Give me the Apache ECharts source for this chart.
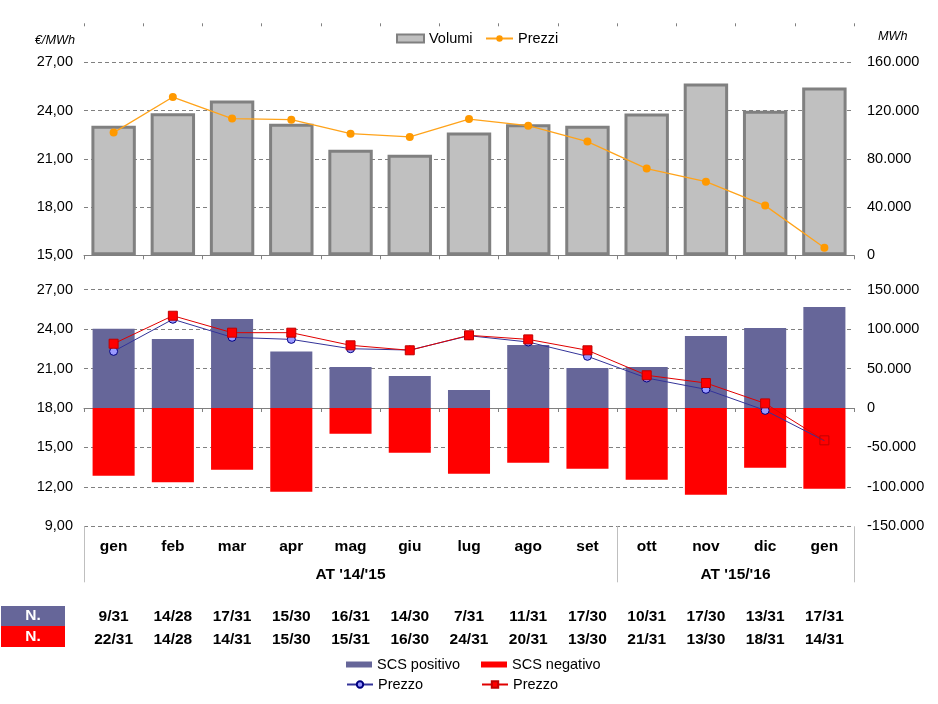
<!DOCTYPE html>
<html><head><meta charset="utf-8">
<script src="https://cdn.jsdelivr.net/npm/echarts@6/dist/echarts.min.js"></script>
<style>html,body{margin:0;padding:0;background:#fff}#c{width:938px;height:704px}</style>
</head><body><div id="c"></div>
<script>
const categories = ['gen','feb','mar','apr','mag','giu','lug','ago','set','ott','nov','dic','gen'];
const volumi = [107400,117800,128300,109000,87500,83300,101800,108700,107400,117500,142400,119800,139100];
const prezzi = [22.63,24.84,23.50,23.43,22.56,22.36,23.47,23.06,22.07,20.39,19.58,18.09,15.47];
const scsPositivo = [100600,87600,113000,71500,52000,40600,22800,80000,50800,52000,91400,101500,128200];
const scsNegativo = [-85900,-94300,-78300,-106200,-32600,-56700,-83300,-69400,-77000,-91000,-110000,-75700,-102400];
const prezzoPositivo = [22.31,24.75,23.38,23.22,22.51,22.41,23.50,23.02,21.93,20.28,19.42,17.82,15.51];
const prezzoNegativo = [22.89,25.02,23.73,23.73,22.77,22.39,23.53,23.22,22.39,20.49,19.90,18.35,15.54];
const giorniPositivo = ['9/31','14/28','17/31','15/30','16/31','14/30','7/31','11/31','17/30','10/31','17/30','13/31','17/31'];
const giorniNegativo = ['22/31','14/28','14/31','15/30','15/31','16/30','24/31','20/31','13/30','21/31','13/30','18/31','14/31'];
const groupLabels = ["AT '14/'15", "AT '15/'16"];
const groupSizes = [9, 4];

const FONT = "'Liberation Sans', Arial, sans-serif";
const bounds = [0];
groupSizes.forEach(s => bounds.push(bounds[bounds.length - 1] + s));
const centers = groupSizes.map((s, i) => bounds[i] + s / 2);

const fmtEur = v => v.toFixed(2).replace('.', ',');
const fmtMwh = v => String(v).replace(/\B(?=(\d{3})+(?!\d))/g, '.');
const last = categories.length - 1;

const gridLine = { show: true, lineStyle: { color: '#808080', type: [4, 3], width: 1 } };
const axisLbl = { color: '#000', fontSize: 14.5, fontFamily: FONT };

const chart = echarts.init(document.getElementById('c'), null, { renderer: 'canvas' });
chart.setOption({
  animation: false,
  backgroundColor: '#fff',
  textStyle: { fontFamily: FONT },
  grid: [
    { left: 84, right: 84, top: 62.3, height: 193 },
    { left: 84, right: 84, top: 289.7, height: 236.6 }
  ],
  legend: [
    { data: ['Volumi'], left: 396, top: 31, padding: 0, itemWidth: 27, itemHeight: 8, itemGap: 0, textStyle: { fontSize: 14.5, color: '#000' }, icon: 'rect' },
    { data: ['Prezzi'], left: 485, top: 31, padding: 0, itemWidth: 27, itemHeight: 8, textStyle: { fontSize: 14.5, color: '#000' } },
    { data: ['SCS positivo'], left: 346, top: 657, padding: 0, itemWidth: 26, itemHeight: 6, icon: 'rect', textStyle: { fontSize: 14.5, color: '#000' } },
    { data: ['SCS negativo'], left: 481, top: 657, padding: 0, itemWidth: 26, itemHeight: 6, icon: 'rect', textStyle: { fontSize: 14.5, color: '#000' } },
    { data: ['Prezzo'], left: 346, top: 677, padding: 0, itemWidth: 26, itemHeight: 8, textStyle: { fontSize: 14.5, color: '#000' } },
    { data: ['Prezzo '], left: 481, top: 677, padding: 0, itemWidth: 26, itemHeight: 8, textStyle: { fontSize: 14.5, color: '#000' } }
  ],
  xAxis: [
    { gridIndex: 0, type: 'category', position: 'bottom', data: categories,
      axisLine: { show: true, onZero: false, lineStyle: { color: '#808080', width: 1 } },
      axisTick: { show: true, length: 4, lineStyle: { color: '#808080' } },
      axisLabel: { show: false }, splitLine: { show: false } },
    { gridIndex: 0, type: 'category', position: 'top', offset: 36, data: categories,
      axisLine: { show: false, onZero: false },
      axisTick: { show: true, length: 3, lineStyle: { color: '#808080' } },
      axisLabel: { show: false }, splitLine: { show: false } },
    { gridIndex: 1, type: 'category', position: 'bottom', data: categories,
      axisLine: { show: false, onZero: false }, axisTick: { show: false },
      axisLabel: { show: true, interval: 0, margin: 12, color: '#000', fontSize: 15.5, fontWeight: 'bold', fontFamily: FONT },
      splitLine: { show: false } },
    { gridIndex: 1, type: 'category', position: 'bottom', data: categories,
      axisLine: { show: true, onZero: true, onZeroAxisIndex: 3, lineStyle: { color: '#808080', width: 1 } },
      axisTick: { show: true, length: 4, lineStyle: { color: '#808080' } },
      axisLabel: { show: false }, splitLine: { show: false } },
    { gridIndex: 1, type: 'value', position: 'bottom', min: 0, max: bounds[bounds.length - 1],
      axisLine: { show: false, onZero: false },
      axisTick: { show: true, customValues: bounds, length: 56, lineStyle: { color: '#BFBFBF', width: 1 } },
      axisLabel: { show: true, customValues: centers, margin: 40, color: '#000', fontSize: 15.5, fontWeight: 'bold', fontFamily: FONT,
        formatter: v => groupLabels[centers.indexOf(v)] },
      splitLine: { show: false } },
    { gridIndex: 1, type: 'category', position: 'bottom', offset: 82, data: giorniPositivo,
      axisLine: { show: false, onZero: false }, axisTick: { show: false },
      axisLabel: { show: true, interval: 0, margin: 0, color: '#000', fontSize: 15.5, fontWeight: 'bold', fontFamily: FONT },
      splitLine: { show: false } },
    { gridIndex: 1, type: 'category', position: 'bottom', offset: 105, data: giorniNegativo,
      axisLine: { show: false, onZero: false }, axisTick: { show: false },
      axisLabel: { show: true, interval: 0, margin: 0, color: '#000', fontSize: 15.5, fontWeight: 'bold', fontFamily: FONT },
      splitLine: { show: false } }
  ],
  yAxis: [
    { gridIndex: 0, type: 'value', position: 'left', min: 15, max: 27, interval: 3,
      axisLine: { show: false, onZero: false }, axisTick: { show: false },
      axisLabel: Object.assign({ margin: 11, formatter: fmtEur }, axisLbl), splitLine: gridLine,
      name: '€/MWh', nameLocation: 'end', nameGap: 15,
      nameTextStyle: { fontStyle: 'italic', fontSize: 12.7, color: '#000', align: 'right', padding: [0, 9, 0, 0] } },
    { gridIndex: 0, type: 'value', position: 'right', min: 0, max: 160000, interval: 40000,
      axisLine: { show: false, onZero: false }, axisTick: { show: false },
      axisLabel: Object.assign({ margin: 13, formatter: fmtMwh }, axisLbl), splitLine: { show: false },
      name: 'MWh', nameLocation: 'end', nameGap: 19,
      nameTextStyle: { fontStyle: 'italic', fontSize: 12.7, color: '#000', align: 'left', padding: [0, 0, 0, 24] } },
    { gridIndex: 1, type: 'value', position: 'left', min: 9, max: 27, interval: 3,
      axisLine: { show: false, onZero: false }, axisTick: { show: false },
      axisLabel: Object.assign({ margin: 11, formatter: fmtEur }, axisLbl), splitLine: gridLine },
    { gridIndex: 1, type: 'value', position: 'right', min: -150000, max: 150000, interval: 50000,
      axisLine: { show: false, onZero: false }, axisTick: { show: false },
      axisLabel: Object.assign({ margin: 13, formatter: fmtMwh }, axisLbl), splitLine: { show: false } }
  ],
  series: [
    { name: 'Volumi', type: 'bar', xAxisIndex: 0, yAxisIndex: 1, data: volumi, barWidth: '75%',
      itemStyle: { color: '#C0C0C0', borderColor: '#808080', borderWidth: 3 } },
    { name: 'Prezzi', type: 'line', xAxisIndex: 0, yAxisIndex: 0, data: prezzi,
      symbol: 'circle', symbolSize: 8, showSymbol: true,
      lineStyle: { color: '#FFA31A', width: 1.3 }, itemStyle: { color: '#FF9900' } },
    { name: 'SCS positivo', type: 'bar', xAxisIndex: 2, yAxisIndex: 3, stack: 'scs', data: scsPositivo, barWidth: '71%',
      itemStyle: { color: '#666699' } },
    { name: 'SCS negativo', type: 'bar', xAxisIndex: 2, yAxisIndex: 3, stack: 'scs', data: scsNegativo, barWidth: '71%',
      itemStyle: { color: '#FF0000' } },
    { name: 'Prezzo', type: 'line', xAxisIndex: 2, yAxisIndex: 2,
      data: prezzoPositivo.map((v, i) => i === last ? { value: v, symbol: 'none' } : v),
      symbol: 'circle', symbolSize: 8, showSymbol: true,
      lineStyle: { color: '#333399', width: 1 }, itemStyle: { color: '#9999FF', borderColor: '#000080', borderWidth: 1 } },
    { name: 'Prezzo ', type: 'line', xAxisIndex: 2, yAxisIndex: 2,
      data: prezzoNegativo.map((v, i) => i === last ? { value: v, itemStyle: { color: 'rgba(255,255,255,0)', borderColor: '#C00000', borderWidth: 1 } } : v),
      symbol: 'rect', symbolSize: 9, showSymbol: true,
      lineStyle: { color: '#E00000', width: 1 }, itemStyle: { color: '#FF0000', borderColor: '#C00000', borderWidth: 1 } }
  ],
  graphic: [
    { type: 'rect', left: 1, top: 606, shape: { width: 64, height: 20 }, style: { fill: '#666699' } },
    { type: 'rect', left: 1, top: 626, shape: { width: 64, height: 21 }, style: { fill: '#FF0000' } },
    { type: 'text', x: 33, y: 616, style: { text: 'N.', fill: '#fff', font: 'bold 15.5px ' + FONT, textAlign: 'center', textVerticalAlign: 'middle' } },
    { type: 'text', x: 33, y: 637, style: { text: 'N.', fill: '#fff', font: 'bold 15.5px ' + FONT, textAlign: 'center', textVerticalAlign: 'middle' } }
  ]
});
</script></body></html>
